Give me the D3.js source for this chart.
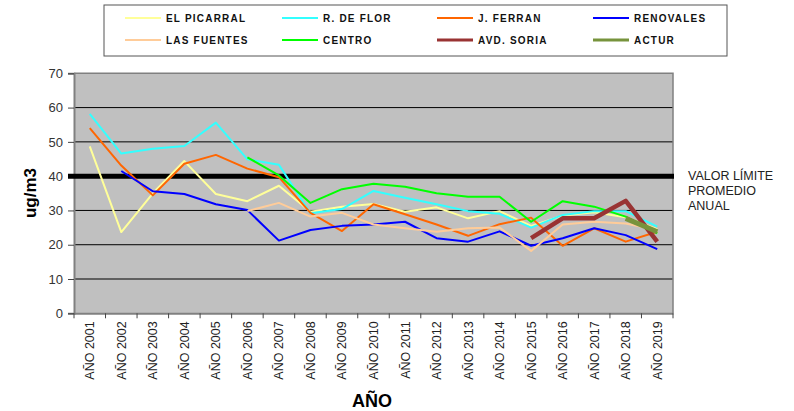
<!DOCTYPE html>
<html><head><meta charset="utf-8">
<script src="https://cdn.jsdelivr.net/npm/d3@7"></script>
<style>body{margin:0;background:#fff;}svg{display:block;font-family:"Liberation Sans",Arial,sans-serif;}</style>
</head><body>
<svg id="c" width="794" height="411"></svg>
<script>
const years = ["AÑO 2001","AÑO 2002","AÑO 2003","AÑO 2004","AÑO 2005","AÑO 2006","AÑO 2007","AÑO 2008","AÑO 2009","AÑO 2010","AÑO 2011","AÑO 2012","AÑO 2013","AÑO 2014","AÑO 2015","AÑO 2016","AÑO 2017","AÑO 2018","AÑO 2019"];
const seriesNames = ["EL PICARRAL","R. DE FLOR","J. FERRAN","RENOVALES","LAS FUENTES","CENTRO","AVD. SORIA","ACTUR"];
const elPicarral = [48.7,23.7,35,44.4,34.8,32.7,37.2,29.6,31.1,31.9,29.6,30.9,27.7,29.8,25.5,28.5,29.5,28,24.5];
const rDeFlor    = [58.2,46.6,48.0,48.8,55.6,44.9,43.3,29.2,30.4,35.7,33.7,31.8,29.8,29.0,25.0,28.7,29.8,29.8,25.3];
const jFerran    = [54.0,43.1,34.4,43.6,46.2,42.2,39.7,29.3,24.0,31.8,28.9,25.9,22.6,26.0,27.9,19.7,24.8,20.9,23.8];
const renovales  = [null,41.5,35.6,34.8,31.8,30.1,21.2,24.3,25.5,25.9,26.7,21.9,20.9,23.9,19.7,21.9,24.8,22.8,18.7];
const lasFuentes = [null,null,null,null,null,29.8,32.2,28.2,29.3,25.9,24.8,23.8,24.8,25.0,18.2,25.9,26.7,26.2,24.3];
const centro     = [null,null,null,null,null,45.5,40.2,32.2,36.2,37.8,36.9,35.0,34.0,34.0,26.7,32.7,31.1,28.2,23.3];
const avdSoria   = [null,null,null,null,null,null,null,null,null,null,null,null,null,null,21.9,27.7,27.7,32.8,20.9];
const actur      = [null,null,null,null,null,null,null,null,null,null,null,null,null,null,null,null,null,27.7,23.8];
const yTicks = [0,10,20,30,40,50,60,70];
const limitValue = 40;
const limitLabel = ["VALOR LÍMITE","PROMEDIO","ANUAL"];

const allSeries = [elPicarral,rDeFlor,jFerran,renovales,lasFuentes,centro,avdSoria,actur];
const colors = ["#FFFF99","#33FFFF","#FF6600","#0000FF","#FFCC99","#00FF00","#993333","#77933C"];
const widths = [2,2,2,2,2,2,4.5,5];

const svg = d3.select("#c");
const L=74, R=673, T=73.3, B=313.3;
const x = d3.scaleBand().domain(years).range([L,R]).padding(0);
const y = d3.scaleLinear().domain([0,70]).range([B,T]);

svg.append("rect").attr("x",L).attr("y",T).attr("width",R-L).attr("height",B-T).attr("fill","#C0C0C0");

svg.append("g").selectAll("line").data(yTicks.filter(d=>d>0&&d<70&&d!==limitValue)).join("line")
  .attr("x1",L).attr("x2",R).attr("y1",d=>y(d)).attr("y2",d=>y(d))
  .attr("stroke","#000").attr("stroke-width",1);

svg.append("path").attr("d",`M${L},${T}H${R}V${B}`).attr("fill","none").attr("stroke","#808080").attr("stroke-width",1.5);

const yAxis = d3.axisLeft(y).tickValues(yTicks).tickSize(6).tickPadding(5);
const gy = svg.append("g").attr("transform",`translate(${L},0)`).call(yAxis);
gy.select(".domain").attr("stroke","#808080").attr("stroke-width",2);
gy.selectAll(".tick line").attr("stroke","#444");
gy.selectAll("text").attr("font-size",13).attr("fill","#333").attr("font-family","Liberation Sans,Arial,sans-serif");

const xAxis = d3.axisBottom(x).tickSize(0).tickFormat(d=>d);
const gx = svg.append("g").attr("transform",`translate(0,${B})`).call(xAxis);
gx.select(".domain").attr("stroke","#808080").attr("stroke-width",2);
gx.selectAll(".tick text").attr("font-size",12.5).attr("fill","#222").attr("font-family","Liberation Sans,Arial,sans-serif")
  .attr("text-anchor","end").attr("dy",null).attr("y",0)
  .attr("transform","translate(4.5,8) rotate(-90)");
const bounds = years.map(d=>x(d)).concat([R]);
svg.append("g").selectAll("line").data(bounds).join("line")
  .attr("x1",d=>d).attr("x2",d=>d).attr("y1",B).attr("y2",B+5).attr("stroke","#444").attr("stroke-width",1);

svg.append("line").attr("x1",68).attr("x2",674).attr("y1",y(limitValue)).attr("y2",y(limitValue))
  .attr("stroke","#000").attr("stroke-width",5);

const line = d3.line().defined(d=>d.v!==null).x(d=>x(d.k)+x.bandwidth()/2).y(d=>y(d.v));
allSeries.forEach((s,i)=>{
  svg.append("path").datum(s.map((v,j)=>({k:years[j],v})))
    .attr("d",line).attr("fill","none").attr("stroke",colors[i]).attr("stroke-width",widths[i])
    .attr("stroke-linejoin","round");
});

svg.append("text").attr("x",688).attr("y",180).attr("font-size",12.5).attr("fill","#222")
  .selectAll("tspan").data(limitLabel).join("tspan").attr("x",688).attr("dy",(d,i)=>i?15:0).text(d=>d);

svg.append("text").attr("transform","translate(36,193) rotate(-90)").attr("text-anchor","middle")
  .attr("font-size",17).attr("font-weight","bold").text("ug/m3");
svg.append("text").attr("x",372).attr("y",407).attr("text-anchor","middle")
  .attr("font-size",18).attr("font-weight","bold").text("AÑO");

svg.append("rect").attr("x",104).attr("y",5).attr("width",623).attr("height",51)
  .attr("fill","#fff").attr("stroke","#555").attr("stroke-width",1);
const colX = [125,282,437,593];
const rowY = [18,40];
const lg = svg.append("g").selectAll("g").data(seriesNames).join("g")
  .attr("transform",(d,i)=>`translate(${colX[i%4]},${rowY[Math.floor(i/4)]})`);
lg.append("line").attr("x1",0).attr("x2",36).attr("y1",0).attr("y2",0)
  .attr("stroke",(d,i)=>colors[i]).attr("stroke-width",(d,i)=>i>=6?3:2);
lg.append("text").attr("x",41).attr("y",4).attr("font-size",10).attr("font-weight","bold")
  .attr("letter-spacing",1.2).attr("fill","#111").text(d=>d);
</script>
</body></html>
